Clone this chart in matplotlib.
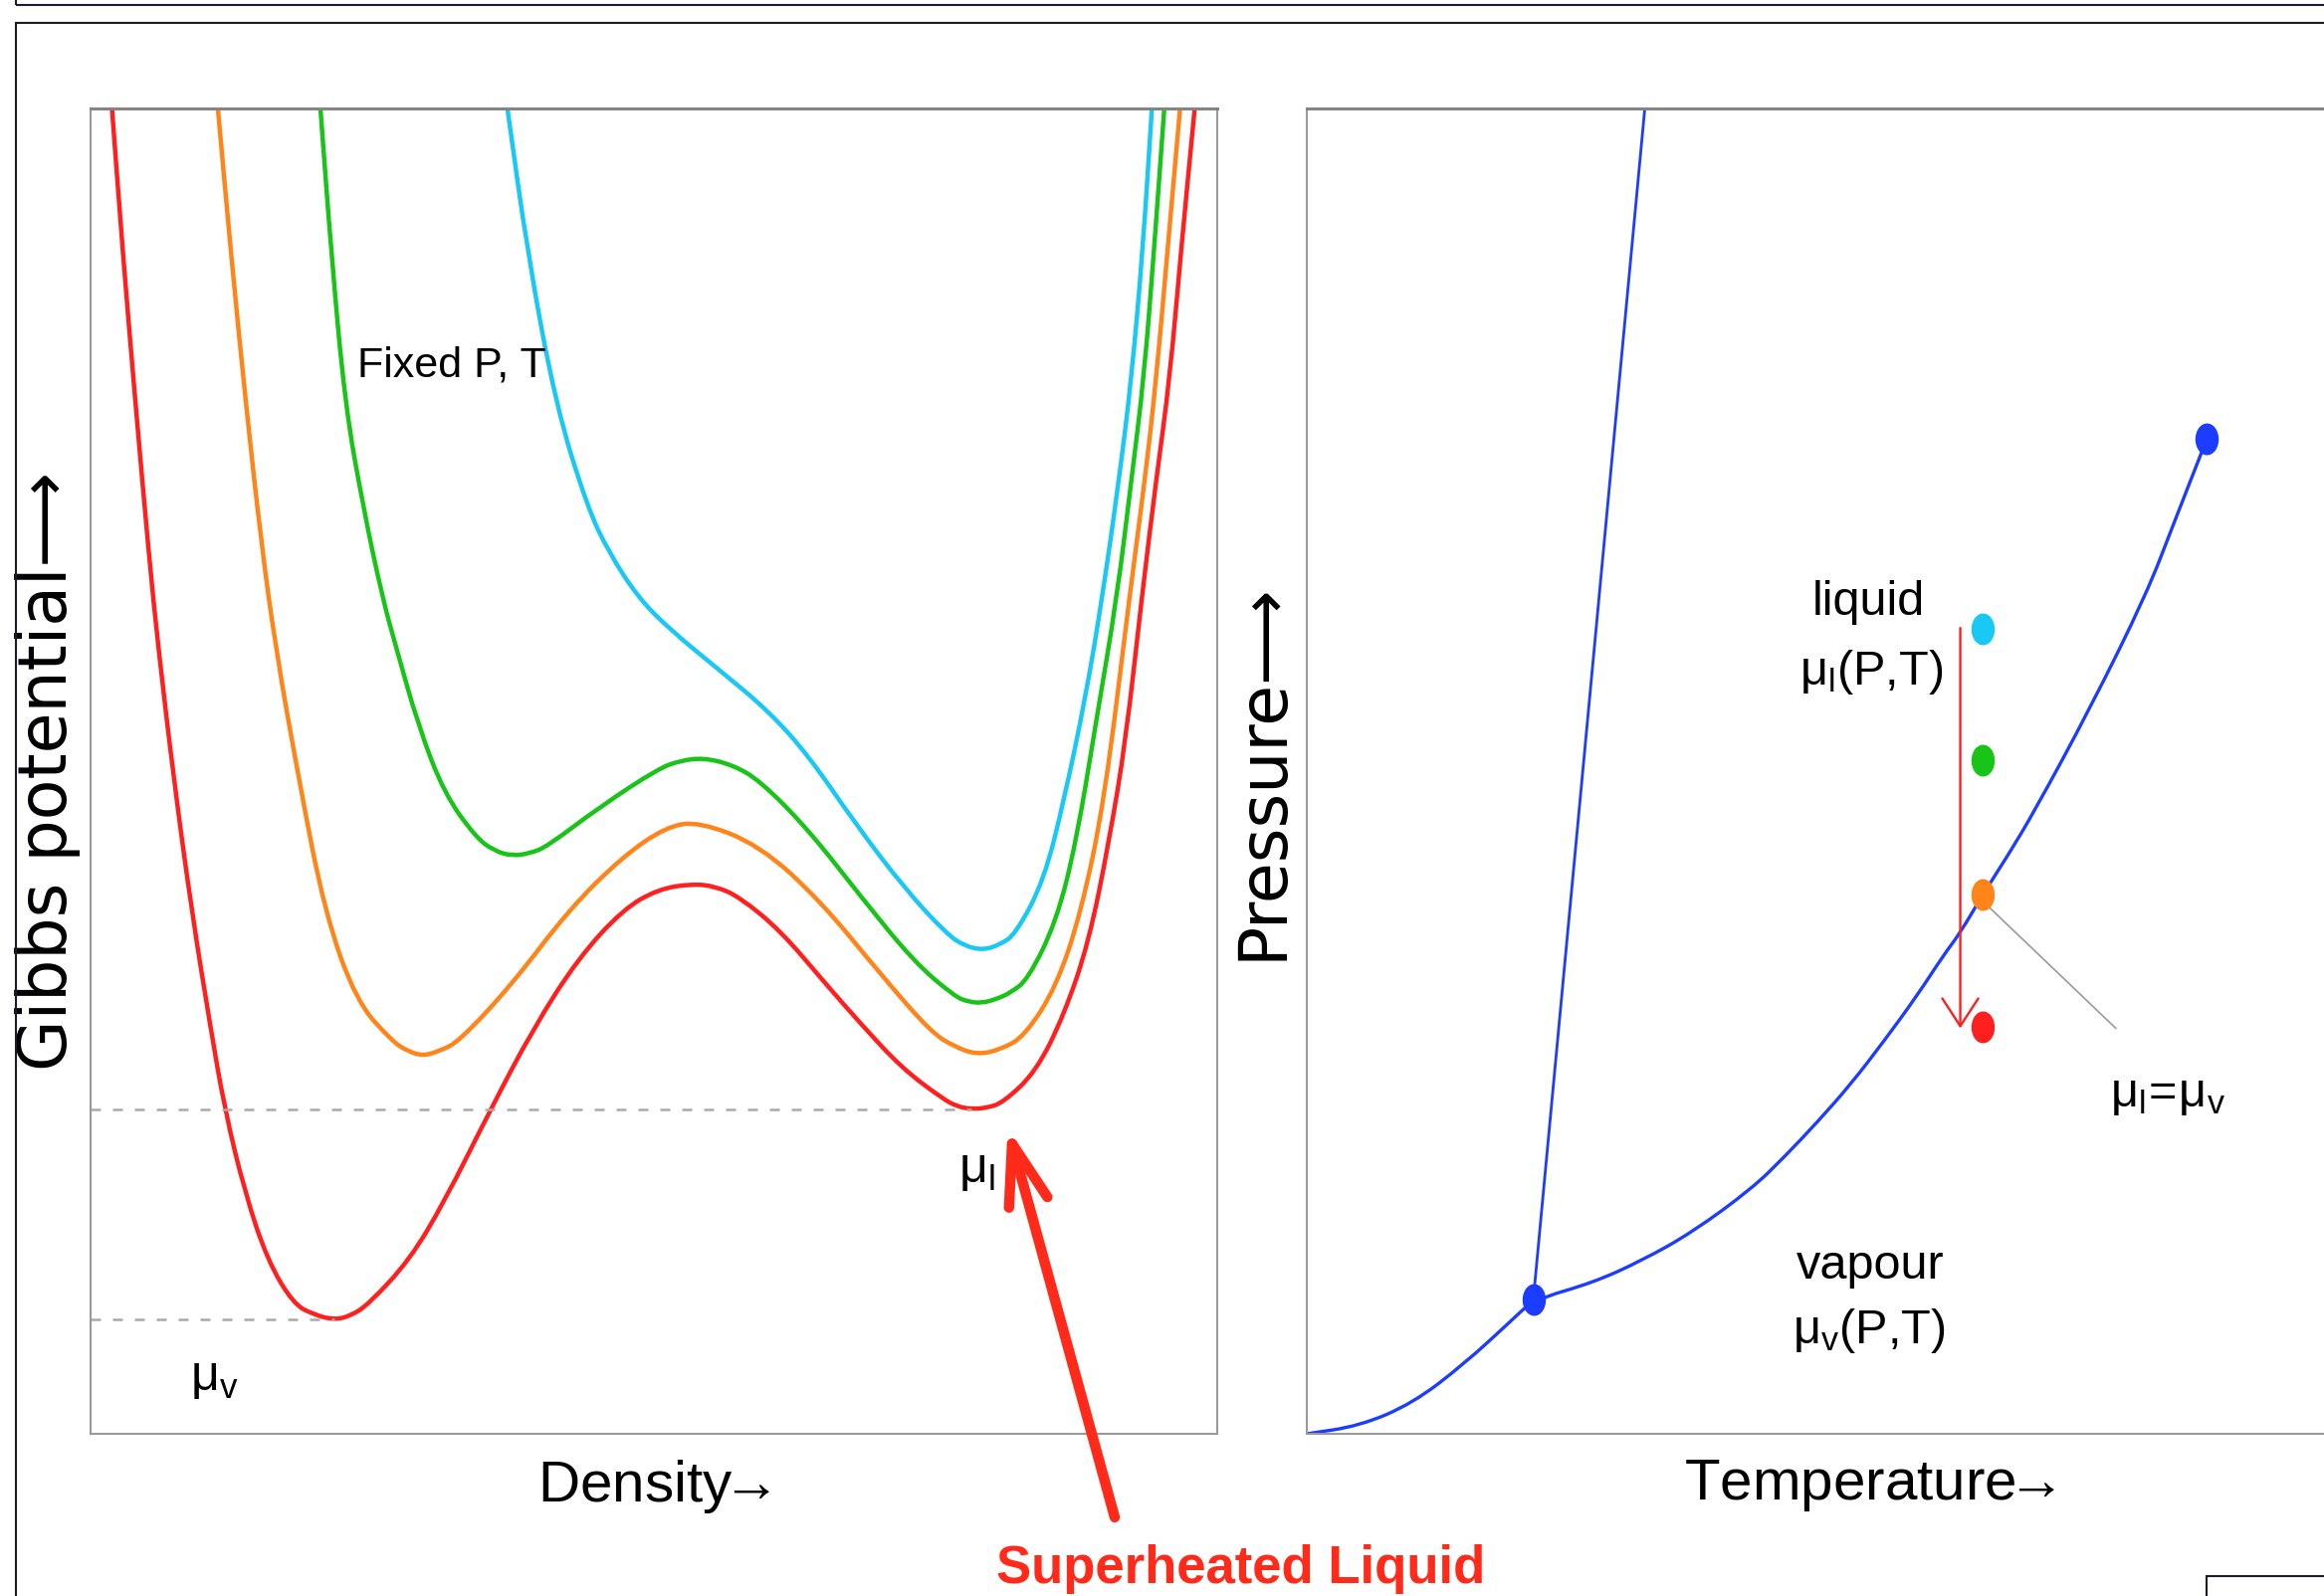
import matplotlib
matplotlib.use("Agg")
import matplotlib.pyplot as plt
from matplotlib.path import Path
from matplotlib.transforms import Affine2D
from matplotlib.patches import Rectangle, PathPatch

plt.rcParams['font.family'] = ['Liberation Sans Narrow', 'Liberation Sans', 'DejaVu Sans']

# ---- left panel: Gibbs potential vs density (arbitrary units, 0..10) ----
red_x = [0.19, 0.29, 0.40, 0.52, 0.60, 0.74, 0.90, 1.06, 1.19, 1.37, 1.57, 1.80, 1.98, 2.16, 2.31,
         2.47, 2.83, 3.14, 3.54, 3.93, 4.33, 4.73, 5.04, 5.34, 5.55, 5.76, 6.12, 6.52, 6.84, 7.20,
         7.56, 7.69, 7.82, 7.96, 8.10, 8.39, 8.64, 8.86, 9.04, 9.19, 9.33, 9.46, 9.58, 9.68, 9.80]
red_y = [10.0, 8.87, 7.76, 6.61, 5.94, 4.93, 3.93, 3.09, 2.45, 1.82, 1.31, 0.98, 0.90, 0.86, 0.89,
         0.98, 1.31, 1.75, 2.43, 3.06, 3.59, 3.96, 4.11, 4.15, 4.13, 4.05, 3.80, 3.40, 3.09, 2.76,
         2.53, 2.47, 2.45, 2.46, 2.50, 2.73, 3.16, 3.71, 4.47, 5.24, 6.31, 7.21, 7.97, 8.94, 10.0]

orange_x = [1.13, 1.25, 1.38, 1.51, 1.64, 1.85, 2.08, 2.36, 2.68, 2.81, 2.95, 3.10, 3.27, 3.74,
            4.25, 4.73, 5.11, 5.40, 5.94, 6.48, 7.02, 7.46, 7.67, 7.87, 8.08, 8.29, 8.57, 8.79,
            9.00, 9.22, 9.36, 9.46, 9.56, 9.67]
orange_y = [10.0, 8.87, 7.76, 6.76, 5.94, 4.93, 3.93, 3.26, 2.96, 2.89, 2.85, 2.89, 2.96, 3.39,
            3.96, 4.36, 4.58, 4.62, 4.44, 4.02, 3.46, 3.03, 2.92, 2.86, 2.90, 3.00, 3.37, 3.93,
            4.78, 6.31, 7.21, 7.97, 8.94, 10.0]

green_x = [2.04, 2.14, 2.26, 2.42, 2.59, 2.71, 2.91, 3.14, 3.42, 3.58, 3.74, 3.90, 4.05, 4.52,
           5.04, 5.24, 5.44, 5.69, 5.94, 6.37, 6.84, 7.31, 7.67, 7.79, 7.91, 8.04, 8.17, 8.32,
           8.57, 8.75, 8.93, 9.11, 9.24, 9.35, 9.44, 9.53]
green_y = [10.0, 8.87, 7.76, 6.99, 6.31, 5.94, 5.34, 4.83, 4.50, 4.40, 4.36, 4.38, 4.43, 4.73,
           5.02, 5.08, 5.10, 5.05, 4.93, 4.56, 4.05, 3.56, 3.30, 3.26, 3.25, 3.28, 3.33, 3.43,
           3.86, 4.47, 5.40, 6.31, 7.21, 7.97, 8.94, 10.0]

cyan_x = [3.70, 3.88, 4.13, 4.41, 4.60, 4.86, 5.14, 5.57, 6.01, 6.37, 6.80, 7.23, 7.60, 7.76,
          7.92, 8.07, 8.21, 8.46, 8.64, 8.83, 8.98, 9.13, 9.24, 9.34, 9.42]
cyan_y = [10.0, 8.90, 7.76, 6.99, 6.65, 6.31, 6.07, 5.77, 5.46, 5.12, 4.59, 4.11, 3.77, 3.68,
          3.65, 3.69, 3.77, 4.17, 4.78, 5.55, 6.31, 7.21, 7.97, 8.94, 10.0]

mu_l_min = (7.82, 2.45)
mu_v_min = (2.16, 0.86)

# ---- right panel: phase diagram (arbitrary units, 0..10) ----
vap_T = [0.00, 0.47, 0.94, 1.40, 1.81, 2.01, 2.54, 2.98, 3.42, 3.95, 4.24, 4.54, 4.83, 5.12,
         5.42, 5.65, 5.80, 6.00, 6.22, 6.46, 6.95, 7.45, 7.70, 7.99]
vap_P = [0.00, 0.06, 0.23, 0.53, 0.85, 1.01, 1.14, 1.31, 1.52, 1.85, 2.09, 2.36, 2.64, 2.96,
         3.31, 3.61, 3.78, 4.07, 4.36, 4.70, 5.47, 6.33, 6.88, 7.51]
melt_T = [2.01, 3.00]
melt_P = [1.01, 10.0]
triple = (2.01, 1.01)
critical = (7.99, 7.51)

state_T = 6.00
state_P = [6.07, 5.08, 4.07, 3.07]          # cyan, green, orange, red
state_colors = ['#19c8f5', '#19c419', '#ff8419', '#ff1f1f']

RED, ORANGE, GREEN, CYAN = '#ff1f1f', '#ff8419', '#19c419', '#19c8f5'
BLUE = '#1c3cff'
SUPER = '#ff2a1a'


def smooth_line(ax, xs, ys, **kw):
    # quadratic b-spline through the read points, drawn as a path in data coords
    pts = list(zip(xs, ys))
    mid = lambda a, b: ((a[0] + b[0]) / 2, (a[1] + b[1]) / 2)
    verts = [pts[0], mid(pts[0], pts[1])]
    codes = [Path.MOVETO, Path.LINETO]
    for i in range(1, len(pts) - 1):
        verts += [pts[i], mid(pts[i], pts[i + 1])]
        codes += [Path.CURVE3, Path.CURVE3]
    verts.append(pts[-1])
    codes.append(Path.LINETO)
    ax.add_patch(PathPatch(Path(verts, codes), fill=False, capstyle='round',
                           joinstyle='round', **kw))


W, H = 2335, 1604
fig = plt.figure(figsize=(W / 100, H / 100), dpi=100)
fig.patch.set_facecolor('white')

ax1 = fig.add_axes([91 / W, 1 - 1441 / H, 1132 / W, 1332 / H])
ax2 = fig.add_axes([1313 / W, 1 - 1441 / H, 1132 / W, 1332 / H])

for ax in (ax1, ax2):
    ax.set_xlim(0, 10)
    ax.set_ylim(0, 10)
    ax.set_xticks([])
    ax.set_yticks([])
    for s in ax.spines.values():
        s.set_color('#9a9a9a')
        s.set_linewidth(1.5)
    ax.spines['top'].set_color('#858585')
    ax.spines['top'].set_linewidth(2.2)

# curves
for xs, ys, c in [(cyan_x, cyan_y, CYAN), (green_x, green_y, GREEN),
                  (orange_x, orange_y, ORANGE), (red_x, red_y, RED)]:
    smooth_line(ax1, xs, ys, edgecolor=c, lw=3.2)

dash = dict(color='#aaaaaa', lw=1.8, linestyle=(0, (4, 4.8)), zorder=1)
ax1.plot([0, mu_l_min[0]], [mu_l_min[1], mu_l_min[1]], **dash)
ax1.plot([0, mu_v_min[0]], [mu_v_min[1], mu_v_min[1]], **dash)

ax1.text(2.37, 7.98, 'Fixed P, T', fontsize=31, ha='left', va='baseline')
ax1.text(0.88, 0.33, r'$\mathregular{μ_v}$', fontsize=36, ha='left', va='baseline')
ax1.text(7.70, 1.90, r'$\mathregular{μ_l}$', fontsize=36, ha='left', va='baseline')

ax1.set_xlabel(r'Density$\!\mathregular{→}$', fontsize=42, labelpad=17)
ax1.set_ylabel('Gibbs potential⟶', fontsize=48, family=['DejaVu Sans'], labelpad=7)

# big arrow to the superheated liquid minimum
ax1.annotate('', xy=(8.14, 2.31), xytext=(9.09, -0.63),
             arrowprops=dict(arrowstyle='->,head_length=2.2,head_width=0.72', color=SUPER,
                             lw=7.5, mutation_scale=20, shrinkA=0, shrinkB=0,
                             capstyle='round', joinstyle='round'),
             annotation_clip=False)
fig.text(1001 / W, 1 - 1552 / H, 'Superheated Liquid', color=SUPER, fontsize=38,
         fontweight='bold', ha='left', va='top')

# right panel
smooth_line(ax2, vap_T, vap_P, edgecolor=BLUE, lw=2.4)
ax2.plot(melt_T, melt_P, color=BLUE, lw=2.0)

oval = Path.unit_circle().transformed(Affine2D().scale(0.72, 1.0))
ax2.plot([triple[0], critical[0]], [triple[1], critical[1]], linestyle='none',
         marker=oval, markersize=22, color=BLUE, zorder=5)
for p, c in zip(state_P, state_colors):
    ax2.plot([state_T], [p], linestyle='none', marker=oval, markersize=22, color=c, zorder=5)

ax2.annotate('', xy=(5.80, 3.06), xytext=(5.80, 6.08),
             arrowprops=dict(arrowstyle='->,head_length=2.0,head_width=1.3', color=RED,
                             lw=1.7, mutation_scale=10, shrinkA=0, shrinkB=0))
ax2.plot([6.06, 7.18], [3.97, 3.06], color='#9a9a9a', lw=1.2)

ax2.text(4.99, 6.18, 'liquid', fontsize=35, ha='center', va='baseline')
ax2.text(5.01, 5.65, r'$\mathregular{μ_l(P{,}T)}$', fontsize=35, ha='center', va='baseline')
ax2.text(5.00, 1.17, 'vapour', fontsize=35, ha='center', va='baseline')
ax2.text(4.99, 0.68, r'$\mathregular{μ_v(P{,}T)}$', fontsize=35, ha='center', va='baseline')
ax2.text(7.13, 2.47, r'$\mathregular{μ_l\!=\!μ_v}$', fontsize=35, ha='left', va='baseline')

ax2.set_xlabel(r'Temperature$\!\mathregular{→}$', fontsize=42, labelpad=17)
ax2.set_ylabel('Pressure⟶', fontsize=48, family=['DejaVu Sans'], labelpad=8)

# slide frame lines
frame = dict(transform=fig.transFigure, fill=False, ec='#1c1c28', lw=1.5)
fig.add_artist(Rectangle((16 / W, 1 - 5 / H), 2, 1, **frame))
fig.add_artist(Rectangle((16 / W, -1), 2, 2 - 23 / H, **frame))
fig.add_artist(Rectangle((2217 / W, -1), 1, 2 - 1584 / H, **frame))

fig.savefig('out.png', dpi=100, facecolor='white')
